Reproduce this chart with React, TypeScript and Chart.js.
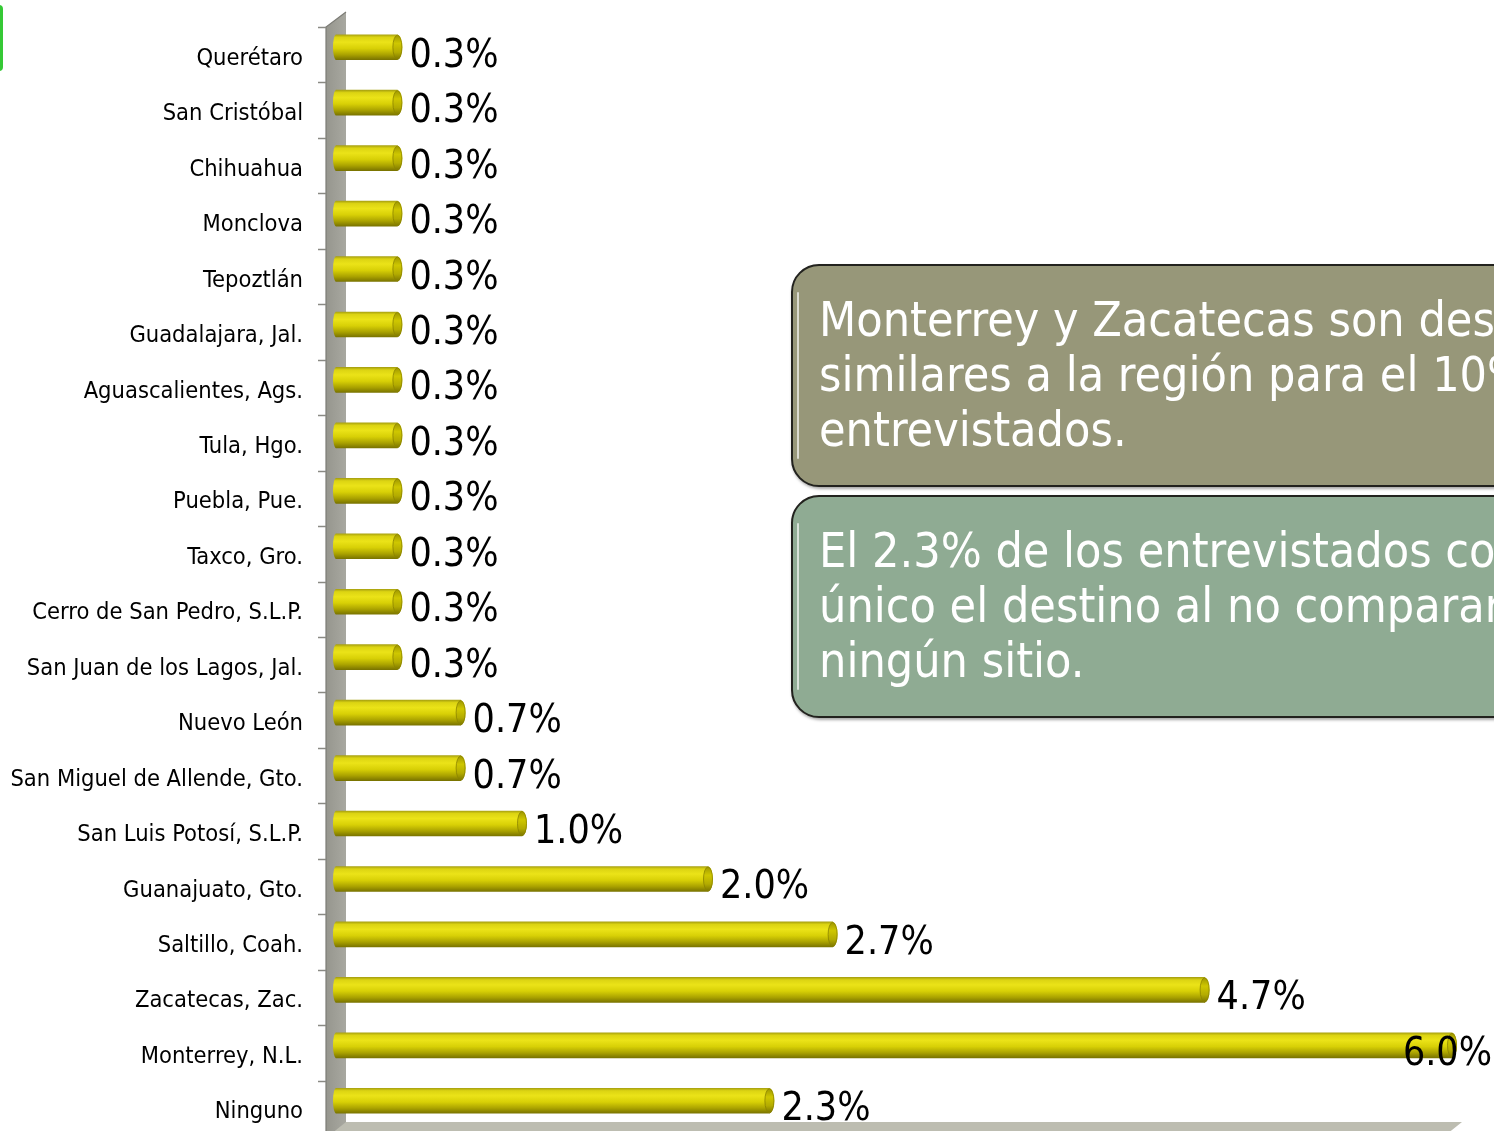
import React, { useEffect, useRef } from "react";
import { Chart, registerables } from "chart.js";

Chart.register(...registerables);

const categories = [
  "Querétaro",
  "San Cristóbal",
  "Chihuahua",
  "Monclova",
  "Tepoztlán",
  "Guadalajara, Jal.",
  "Aguascalientes, Ags.",
  "Tula, Hgo.",
  "Puebla, Pue.",
  "Taxco, Gro.",
  "Cerro de San Pedro, S.L.P.",
  "San Juan de los Lagos, Jal.",
  "Nuevo León",
  "San Miguel de Allende, Gto.",
  "San Luis Potosí, S.L.P.",
  "Guanajuato, Gto.",
  "Saltillo, Coah.",
  "Zacatecas, Zac.",
  "Monterrey, N.L.",
  "Ninguno",
];

const values = [
  0.33, 0.33, 0.33, 0.33, 0.33, 0.33, 0.33, 0.33, 0.33, 0.33, 0.33, 0.33,
  0.67, 0.67, 1.0, 2.0, 2.67, 4.67, 6.0, 2.33,
];

const valueLabels = [
  "0.3%", "0.3%", "0.3%", "0.3%", "0.3%", "0.3%", "0.3%", "0.3%", "0.3%", "0.3%", "0.3%", "0.3%",
  "0.7%", "0.7%", "1.0%", "2.0%", "2.7%", "4.7%", "6.0%", "2.3%",
];

const xTicks = [0, 6];

const note1Lines = [
  "Monterrey y Zacatecas son destinos",
  "similares a la región para el 10% de los",
  "entrevistados.",
];
const note2Lines = [
  "El 2.3% de los entrevistados considera",
  "único el destino al no compararlo con",
  "ningún sitio.",
];

const FONT = "'DejaVu Sans Condensed', 'DejaVu Sans', sans-serif";
const BAR_H = 25;
const CAP_RX = 5;
const DROP = 4; // category labels sit slightly below the frame grid
const SHIFT_Y = -11.5;

function barGradient(ctx: CanvasRenderingContext2D, y: number) {
  const g = ctx.createLinearGradient(0, y - BAR_H / 2, 0, y + BAR_H / 2);
  g.addColorStop(0, "#a9a210");
  g.addColorStop(0.1, "#dcd412");
  g.addColorStop(0.3, "#ebe318");
  g.addColorStop(0.55, "#d8d006");
  g.addColorStop(0.8, "#aaa200");
  g.addColorStop(1, "#7a7400");
  return g;
}

function capGradient(ctx: CanvasRenderingContext2D, y: number) {
  const g = ctx.createLinearGradient(0, y - BAR_H / 2, 0, y + BAR_H / 2);
  g.addColorStop(0, "#9c9500");
  g.addColorStop(0.35, "#cfc700");
  g.addColorStop(0.7, "#b3ab00");
  g.addColorStop(1, "#7a7400");
  return g;
}

const framePlugin = {
  id: "frame3d",
  beforeDraw(chart: any) {
    const { ctx, chartArea } = chart;
    const L = chartArea.left;
    const T = chartArea.top - DROP;
    const R = chartArea.right;
    const B = chartArea.bottom - DROP;
    const H = chart.height;
    ctx.save();
    const wg = ctx.createLinearGradient(L - 10, 0, L + 10, 0);
    wg.addColorStop(0, "#96968e");
    wg.addColorStop(1, "#a8a8a0");
    ctx.beginPath();
    ctx.moveTo(L - 10, T);
    ctx.lineTo(L + 10, T - 15);
    ctx.lineTo(L + 10, H + 20);
    ctx.lineTo(L - 10, H + 20);
    ctx.closePath();
    ctx.fillStyle = wg;
    ctx.fill();
    ctx.strokeStyle = "#7c7c76";
    ctx.lineWidth = 1.2;
    ctx.beginPath();
    ctx.moveTo(L - 10, H + 20);
    ctx.lineTo(L - 10, T);
    ctx.lineTo(L + 10, T - 15);
    ctx.stroke();
    ctx.beginPath();
    ctx.moveTo(L + 10, B - 14);
    ctx.lineTo(R + 10, B - 14);
    ctx.lineTo(R - 10, B + 2);
    ctx.lineTo(L - 10, B + 2);
    ctx.closePath();
    ctx.fillStyle = "#bdbdb1";
    ctx.fill();
    const n = categories.length;
    const h = (B - T) / n;
    ctx.strokeStyle = "#8a8a84";
    ctx.lineWidth = 1.5;
    for (let k = 0; k <= n; k++) {
      const y = Math.round(T + k * h) + 0.5;
      ctx.beginPath();
      ctx.moveTo(L - 18, y);
      ctx.lineTo(L - 10, y);
      ctx.stroke();
    }
    ctx.restore();
  },
};

const cylinderPlugin = {
  id: "cylinder",
  beforeDatasetsDraw(chart: any) {
    chart.ctx.save();
    chart.ctx.translate(0, SHIFT_Y);
  },
  afterDatasetsDraw(chart: any) {
    const ctx = chart.ctx;
    const meta = chart.getDatasetMeta(0);
    meta.data.forEach((bar: any) => {
      const y = bar.y;
      ctx.beginPath();
      ctx.ellipse(bar.base, y, 3, BAR_H / 2, 0, Math.PI / 2, (Math.PI * 3) / 2);
      ctx.closePath();
      ctx.fillStyle = barGradient(ctx, y);
      ctx.fill();
      ctx.beginPath();
      ctx.ellipse(bar.x, y, CAP_RX, BAR_H / 2, 0, -Math.PI / 2, Math.PI / 2);
      ctx.closePath();
      ctx.fillStyle = barGradient(ctx, y);
      ctx.fill();
      ctx.beginPath();
      ctx.ellipse(bar.x, y, CAP_RX - 0.5, BAR_H / 2 - 0.5, 0, 0, Math.PI * 2);
      ctx.fillStyle = capGradient(ctx, y);
      ctx.fill();
      ctx.strokeStyle = "#8a8300";
      ctx.lineWidth = 0.8;
      ctx.stroke();
    });
    ctx.restore();
  },
};

const labelPlugin = {
  id: "valueLabels",
  afterDatasetsDraw(chart: any) {
    const ctx = chart.ctx;
    const meta = chart.getDatasetMeta(0);
    ctx.save();
    ctx.font = `39px ${FONT}`;
    ctx.fillStyle = "#000000";
    ctx.textAlign = "left";
    ctx.textBaseline = "alphabetic";
    meta.data.forEach((bar: any, i: number) => {
      const t = valueLabels[i];
      const w = ctx.measureText(t).width;
      let x = bar.x + CAP_RX + 7;
      if (x + w > chart.width - 2) x = chart.width - 2 - w;
      ctx.fillText(t, x, bar.y + 8);
    });
    ctx.restore();
  },
};

function ChartCanvas() {
  const ref = useRef<HTMLCanvasElement | null>(null);
  useEffect(() => {
    if (!ref.current) return;
    const chart = new Chart(ref.current, {
      type: "bar",
      data: {
        labels: categories,
        datasets: [
          {
            data: values,
            barThickness: BAR_H,
            borderWidth: 0,
            clip: false as any,
            backgroundColor: (c: any) => {
              const ch = c.chart;
              if (!ch.chartArea || c.dataIndex === undefined) return "#e0d80c";
              const y = ch.scales.y.getPixelForValue(c.dataIndex);
              return barGradient(ch.ctx, y);
            },
          },
        ],
      },
      options: {
        indexAxis: "y",
        responsive: false,
        animation: false,
        devicePixelRatio: 1,
        layout: { padding: { top: 31, right: 42, bottom: 20, left: 0 } },
        plugins: {
          legend: { display: false },
          tooltip: { enabled: false },
        },
        scales: {
          x: {
            min: xTicks[0],
            max: xTicks[1],
            display: false,
          },
          y: {
            type: "category",
            offset: true,
            grid: {
              display: true,
              drawOnChartArea: false,
              drawTicks: true,
              tickLength: 33,
              color: "rgba(0,0,0,0)",
            },
            border: { display: false },
            ticks: {
              autoSkip: false,
              color: "#000000",
              padding: 0,
              font: { family: FONT, size: 23.5 },
            },
            afterFit(s: any) {
              s.width = 336;
            },
          },
        },
      },
      plugins: [framePlugin, cylinderPlugin, labelPlugin],
    } as any);
    return () => chart.destroy();
  }, []);
  return <canvas ref={ref} width={1494} height={1160} style={{ display: "block" }} />;
}

function Note({ top, bg, lines }: { top: number; bg: string; lines: string[] }) {
  return (
    <div
      style={{
        position: "absolute",
        left: 791,
        top,
        width: 820,
        height: 223,
        boxSizing: "border-box",
        background: bg,
        border: "2px solid #22221e",
        borderRadius: 28,
        boxShadow: "1px 2px 3px rgba(0,0,0,0.35)",
        color: "#ffffff",
        fontFamily: FONT,
        fontSize: 48,
        lineHeight: "55px",
        paddingLeft: 26,
        paddingTop: 26,
        whiteSpace: "nowrap",
      }}
    >
      <div
        style={{
          position: "absolute",
          left: 4,
          top: 26,
          bottom: 26,
          width: 2,
          background: "rgba(255,255,255,0.65)",
          borderRadius: 1,
        }}
      />
      {lines.map((l, i) => (
        <div key={i}>{l}</div>
      ))}
    </div>
  );
}

export default function App() {
  return (
    <div
      style={{
        position: "fixed",
        left: 0,
        top: 0,
        width: 1494,
        height: 1131,
        overflow: "hidden",
        background: "#ffffff",
      }}
    >
      <ChartCanvas />
      <div
        style={{
          position: "absolute",
          left: -10,
          top: 5,
          width: 13,
          height: 66,
          background: "#35c935",
          borderRadius: 4,
        }}
      />
      <Note top={264} bg="#979779" lines={note1Lines} />
      <Note top={495} bg="#8fab93" lines={note2Lines} />
    </div>
  );
}
